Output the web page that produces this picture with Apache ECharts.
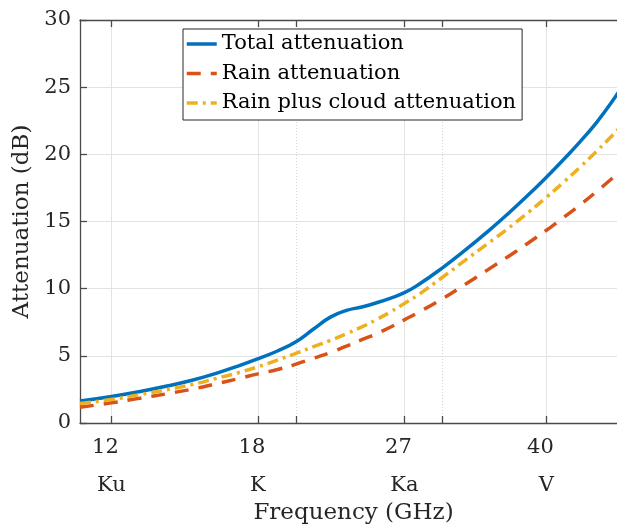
<!DOCTYPE html>
<html>
<head>
<meta charset="utf-8">
<script src="https://cdn.jsdelivr.net/npm/echarts@6/dist/echarts.min.js"></script>
<style>
  html, body { margin: 0; padding: 0; background: #fff; overflow: hidden; }
  #chart { width: 617px; height: 529px; }
</style>
</head>
<body>
<div id="chart"></div>
<script>
// Frequency samples (GHz) and attenuation (dB) for each component
const freqGHz = [11, 12, 13, 14, 15, 16, 17, 18, 19, 20, 21, 22, 23, 24, 25, 26, 27, 28, 30, 32, 34, 36, 38, 40, 42, 44, 46, 48, 50];
const totalAtt = [1.64, 1.98, 2.35, 2.75, 3.18, 3.68, 4.22, 4.78, 5.36, 6.05, 7.00, 7.88, 8.38, 8.64, 8.95, 9.30, 9.70, 10.25, 11.55, 12.90, 14.25, 15.60, 16.95, 18.30, 19.65, 21.00, 22.40, 23.95, 25.60];
const rainAtt = [1.18, 1.50, 1.85, 2.18, 2.52, 2.90, 3.28, 3.66, 3.98, 4.38, 4.82, 5.25, 5.72, 6.20, 6.65, 7.15, 7.68, 8.20, 9.25, 10.35, 11.40, 12.40, 13.38, 14.35, 15.32, 16.28, 17.25, 18.22, 19.20];
const rainCloudAtt = [1.45, 1.75, 2.12, 2.48, 2.86, 3.30, 3.72, 4.18, 4.68, 5.19, 5.68, 6.15, 6.65, 7.15, 7.70, 8.28, 8.90, 9.50, 10.85, 12.15, 13.35, 14.50, 15.65, 16.80, 17.95, 19.10, 20.25, 21.40, 22.55];

// Axis ticks: band edges with their band names, plus minor marks
const bandTicks = [12, 18, 27, 40];
const bandNames = ['Ku', 'K', 'Ka', 'V'];
const minorTicks = [20, 30];
const allTicks = [12, 18, 20, 27, 30, 40];

const seriesNames = ['Total attenuation', 'Rain attenuation', 'Rain plus cloud attenuation'];

const FONT = "'DejaVu Serif', serif";
const INK = '#262626';
const AXIS = '#4a4a4a';
const LINE_W = 3.5;

const pairs = (ys) => freqGHz.map((f, i) => [f, ys[i]]);

const chart = echarts.init(document.getElementById('chart'), null, { renderer: 'canvas' });

const baseX = {
  type: 'log',
  logBase: 10,
  min: 11,
  max: 50,
  gridIndex: 0
};

chart.setOption({
  animation: false,
  backgroundColor: '#ffffff',
  textStyle: { fontFamily: FONT, color: INK },
  grid: {
    left: 80, top: 20, right: -10, bottom: 106,
    containLabel: false,
    outerBoundsMode: 'none'
  },
  legend: {
    orient: 'vertical',
    left: 183, top: 29,
    padding: [4, 6, 6, 2],
    itemGap: 7.5,
    itemWidth: 30,
    itemHeight: 14,
    backgroundColor: '#ffffff',
    borderColor: '#262626',
    borderWidth: 1,
    borderRadius: 0,
    itemStyle: { opacity: 0, borderWidth: 0 },
    lineStyle: { width: LINE_W },
    textStyle: { fontFamily: FONT, fontSize: 21, color: '#000', lineHeight: 22, padding: [0, 0, 0, 0] },
    data: seriesNames
  },
  xAxis: [
    Object.assign({}, baseX, {
      position: 'bottom',
      name: 'Frequency (GHz)',
      nameLocation: 'middle',
      nameGap: 79,
      nameTextStyle: { fontFamily: FONT, fontSize: 23, color: INK },
      axisLine: { show: true, lineStyle: { color: AXIS, width: 1.3 } },
      axisTick: { show: true, inside: true, length: 7, customValues: bandTicks, lineStyle: { color: AXIS, width: 1.3 } },
      axisLabel: {
        show: true,
        customValues: bandTicks,
        margin: 10,
        formatter: (v) => {
          const i = bandTicks.indexOf(Math.round(v));
          return '{n|' + Math.round(v) + '}\n{b|' + (i >= 0 ? bandNames[i] : '') + '}';
        },
        rich: {
          n: { fontFamily: FONT, fontSize: 21, color: INK, lineHeight: 30, padding: [0, 12, 0, 0] },
          b: { fontFamily: FONT, fontSize: 21, color: INK, lineHeight: 46 }
        }
      },
      splitLine: { show: true, lineStyle: { color: '#e3e3e3', width: 1 } }
    }),
    Object.assign({}, baseX, {
      position: 'top',
      axisLine: { show: true, lineStyle: { color: AXIS, width: 1.3 } },
      axisTick: { show: true, inside: true, length: 7, customValues: allTicks, lineStyle: { color: AXIS, width: 1.3 } },
      axisLabel: { show: false },
      splitLine: { show: false }
    }),
    Object.assign({}, baseX, {
      position: 'bottom',
      axisLine: { show: false },
      axisTick: { show: true, inside: true, length: 7, customValues: minorTicks, lineStyle: { color: AXIS, width: 1.3 } },
      axisLabel: { show: false },
      splitLine: { show: true, lineStyle: { color: '#d4d4d4', width: 1, type: [1, 2] } }
    })
  ],
  yAxis: {
    type: 'value',
    min: 0, max: 30, interval: 5,
    position: 'left',
    name: 'Attenuation (dB)',
    nameLocation: 'middle',
    nameGap: 36,
    nameTextStyle: { fontFamily: FONT, fontSize: 23, color: INK },
    axisLine: { show: true, lineStyle: { color: AXIS, width: 1.3 } },
    axisTick: { show: true, inside: true, length: 7, lineStyle: { color: AXIS, width: 1.3 } },
    axisLabel: { margin: 9, fontFamily: FONT, fontSize: 21, color: INK },
    splitLine: { show: true, lineStyle: { color: '#e3e3e3', width: 1 } }
  },
  series: [
    {
      name: seriesNames[0], type: 'line', xAxisIndex: 0, yAxisIndex: 0,
      data: pairs(totalAtt), symbol: 'none', showSymbol: false,
      smooth: 0.5,
      lineStyle: { color: '#0072BD', width: LINE_W, type: 'solid' },
      itemStyle: { color: '#0072BD' }
    },
    {
      name: seriesNames[1], type: 'line', xAxisIndex: 0, yAxisIndex: 0,
      data: pairs(rainAtt), symbol: 'none', showSymbol: false,
      smooth: 0.5,
      lineStyle: { color: '#D95319', width: LINE_W, type: [14, 10] },
      itemStyle: { color: '#D95319' }
    },
    {
      name: seriesNames[2], type: 'line', xAxisIndex: 0, yAxisIndex: 0,
      data: pairs(rainCloudAtt), symbol: 'none', showSymbol: false,
      smooth: 0.5,
      lineStyle: { color: '#EDB120', width: LINE_W, type: [11, 5, 3, 5] },
      itemStyle: { color: '#EDB120' }
    }
  ]
});
</script>
</body>
</html>
